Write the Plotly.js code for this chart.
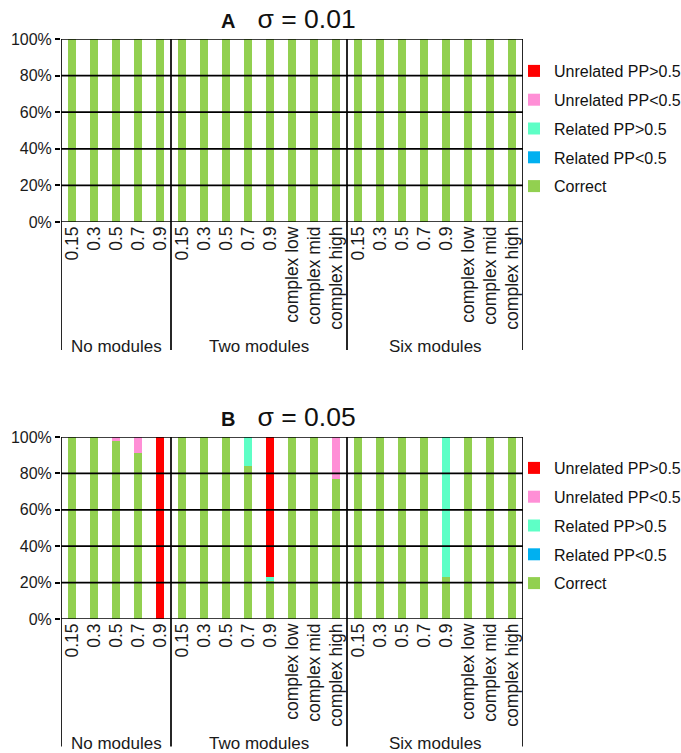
<!DOCTYPE html>
<html>
<head>
<meta charset="utf-8">
<script src="https://cdn.plot.ly/plotly-3.0.1.min.js"></script>
<style>html,body{margin:0;padding:0;background:#fff;}#chart{width:681px;height:753px;}</style>
</head>
<body>
<div id="chart"></div>
<script>
// ---- data ----
const groupNames = ['No modules', 'Two modules', 'Six modules'];
const groupLevels = [
  ['0.15', '0.3', '0.5', '0.7', '0.9'],
  ['0.15', '0.3', '0.5', '0.7', '0.9', 'complex low', 'complex mid', 'complex high'],
  ['0.15', '0.3', '0.5', '0.7', '0.9', 'complex low', 'complex mid', 'complex high']
];
const seriesNames = ['Correct', 'Related PP<0.5', 'Related PP>0.5', 'Unrelated PP<0.5', 'Unrelated PP>0.5'];
const seriesColors = ['#92D050', '#00B0F0', '#5EFFC6', '#FF8FD6', '#FF0000'];
const yTicks = [0, 20, 40, 60, 80, 100];
const yTickText = ['0%', '20%', '40%', '60%', '80%', '100%'];
const panelTitles = ['A', 'B'];
const panelSigmas = ['σ = 0.01', 'σ = 0.05'];

// Panel A (sigma = 0.01)
const correctA   = [100,100,100,100,100, 100,100,100,100,100,100,100,100, 100,100,100,100,100,100,100,100];
const relLowA    = [0,0,0,0,0, 0,0,0,0,0,0,0,0, 0,0,0,0,0,0,0,0];
const relHighA   = [0,0,0,0,0, 0,0,0,0,0,0,0,0, 0,0,0,0,0,0,0,0];
const unrelLowA  = [0,0,0,0,0, 0,0,0,0,0,0,0,0, 0,0,0,0,0,0,0,0];
const unrelHighA = [0,0,0,0,0, 0,0,0,0,0,0,0,0, 0,0,0,0,0,0,0,0];

// Panel B (sigma = 0.05)
const correctB   = [100,100,98,91,0, 100,100,100,84,21,100,100,77, 100,100,100,100,23,100,100,100];
const relLowB    = [0,0,0,0,0, 0,0,0,0,0,0,0,0, 0,0,0,0,0,0,0,0];
const relHighB   = [0,0,0,0,0, 0,0,0,16,2,0,0,0, 0,0,0,0,77,0,0,0];
const unrelLowB  = [0,0,2,9,0, 0,0,0,0,0,0,0,23, 0,0,0,0,0,0,0,0];
const unrelHighB = [0,0,0,0,100, 0,0,0,0,77,0,0,0, 0,0,0,0,0,0,0,0];

const panelSeries = [
  [correctA, relLowA, relHighA, unrelLowA, unrelHighA],
  [correctB, relLowB, relHighB, unrelLowB, unrelHighB]
];

// ---- build ----
const tickText = [].concat(...groupLevels);
const xIdx = tickText.map((_, i) => i);
const groupStarts = [];
let acc = 0;
groupLevels.forEach(g => { groupStarts.push(acc); acc += g.length; });
const nCat = acc;

const FONT = 'Liberation Sans, Arial, sans-serif';
const traces = [];
panelSeries.forEach((series, p) => {
  series.forEach((vals, s) => {
    traces.push({
      type: 'bar',
      x: xIdx,
      y: vals,
      name: seriesNames[s],
      marker: {color: seriesColors[s], line: {width: 0}},
      xaxis: p === 0 ? 'x' : 'x2',
      yaxis: p === 0 ? 'y' : 'y2',
      legend: p === 0 ? 'legend' : 'legend2',
      legendgroup: 'g' + p + '_' + s,
      legendrank: seriesNames.length - s,
      hoverinfo: 'y+name'
    });
  });
});

const xDomain = [61 / 681, 523 / 681];
const yDomains = [[(753 - 222) / 753, (753 - 39) / 753], [(753 - 619) / 753, (753 - 437) / 753]];

const shapes = [];
const annotations = [];
['', '2'].forEach((suf, p) => {
  const xr = 'x' + suf, yr = 'y' + suf;
  yTicks.forEach(v => {
    shapes.push({type: 'line', xref: xr + ' domain', yref: yr, x0: 0, x1: 1, y0: v, y1: v,
      line: {color: '#000', width: 1.7}, layer: 'above'});
  });
  const bounds = groupStarts.concat([nCat]).map(v => v - 0.5);
  bounds.forEach(b => {
    shapes.push({type: 'line', xref: xr, yref: yr + ' domain', x0: b, x1: b, y0: 1, y1: -0.70,
      line: {color: '#000', width: 1.7}, layer: 'above'});
  });
  groupNames.forEach((g, gi) => {
    const c = groupStarts[gi] + (groupLevels[gi].length - 1) / 2;
    annotations.push({xref: xr, yref: yr + ' domain', x: c, y: -0.683, text: g, showarrow: false,
      xanchor: 'center', yanchor: 'middle', font: {family: FONT, size: 17, color: '#1a1a1a'}});
  });
  annotations.push({xref: xr + ' domain', yref: yr + ' domain', x: 0.5, y: 1, yshift: 20, xshift: -4,
    text: '<span style="font-size:20px"><b>' + panelTitles[p] + '</b></span>\u00a0\u00a0\u00a0' + panelSigmas[p],
    showarrow: false, xanchor: 'center', yanchor: 'middle',
    font: {family: FONT, size: 26.5, color: '#111'}});
});

const xaxisBase = {
  domain: xDomain, range: [-0.5, nCat - 0.5], tickmode: 'array', tickvals: xIdx, ticktext: tickText,
  tickangle: -90, ticks: '', showgrid: false, zeroline: false, showline: false, automargin: false,
  tickfont: {family: FONT, size: 17.5, color: '#1a1a1a'}, fixedrange: true
};
const yaxisBase = {
  range: [0, 100], tickmode: 'array', tickvals: yTicks, ticktext: yTickText, ticks: 'outside', ticklen: 5,
  tickwidth: 1.5, tickcolor: '#000', showgrid: false, zeroline: false, showline: false, automargin: false,
  tickfont: {family: FONT, size: 16, color: '#1a1a1a'}, fixedrange: true
};
const legendBase = {
  x: 514 / 681, xanchor: 'left', yanchor: 'top', traceorder: 'grouped', tracegroupgap: 5,
  font: {family: FONT, size: 16, color: '#111'}, bgcolor: 'rgba(0,0,0,0)', borderwidth: 0
};

const layout = {
  width: 681, height: 753,
  margin: {l: 0, r: 0, t: 0, b: 0, autoexpand: false},
  paper_bgcolor: '#fff', plot_bgcolor: '#fff',
  barmode: 'stack', bargap: 0.62,
  showlegend: true,
  xaxis: Object.assign({}, xaxisBase, {anchor: 'y'}),
  yaxis: Object.assign({}, yaxisBase, {domain: yDomains[0], anchor: 'x'}),
  xaxis2: Object.assign({}, xaxisBase, {anchor: 'y2'}),
  yaxis2: Object.assign({}, yaxisBase, {domain: yDomains[1], anchor: 'x2'}),
  legend: Object.assign({}, legendBase, {y: (753 - 54) / 753}),
  legend2: Object.assign({}, legendBase, {y: (753 - 451) / 753}),
  shapes: shapes,
  annotations: annotations,
  font: {family: FONT}
};

Plotly.newPlot('chart', traces, layout, {displayModeBar: false});
</script>
</body>
</html>
